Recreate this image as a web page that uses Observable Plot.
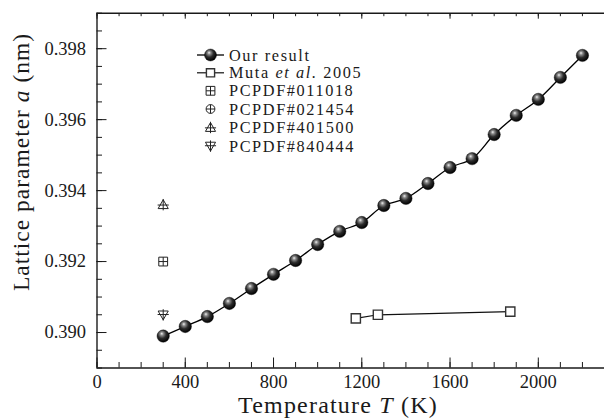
<!DOCTYPE html>
<html><head><meta charset="utf-8">
<script src="https://cdn.jsdelivr.net/npm/d3@7"></script>
<script src="https://cdn.jsdelivr.net/npm/@observablehq/plot@0.6"></script>
<style>
html,body{margin:0;padding:0;background:#fff;}
#chart{position:relative;width:604px;height:419px;}
svg{font-family:"Liberation Serif",serif;}
</style></head><body><div id="chart"></div>
<script>
// ---- data ----
const ourT = [300,400,500,600,700,800,900,1000,1100,1200,1300,1400,1500,1600,1700,1800,1900,2000,2100,2200];
const ourA = [0.38990,0.39017,0.39045,0.39082,0.39124,0.39164,0.39203,0.39248,0.39285,0.39310,0.39358,0.39378,0.39420,0.39465,0.39490,0.39558,0.39612,0.39657,0.39719,0.39781];
const mutaT = [1173,1273,1873];
const mutaA = [0.39040,0.39050,0.39059];
const pcpdfNames = ["PCPDF#011018","PCPDF#021454","PCPDF#401500","PCPDF#840444"];
const pcpdfT = [300,300,300,300];
const pcpdfA = [0.39200,0.38990,0.39360,0.39050];
const xTicks = [0,400,800,1200,1600,2000];
const xTickLabels = ["0","400","800","1200","1600","2000"];
const yTicks = [0.390,0.392,0.394,0.396,0.398];
const yTickLabels = ["0.390","0.392","0.394","0.396","0.398"];
const xMinor = d3.range(0,2301,100);
const yMinor = d3.range(0,21).map(i=>+(0.389+i*0.0005).toFixed(4));
const xDomain = [0,2300];
const yDomain = [0.389,0.399];

const our = ourT.map((t,i)=>({T:t,a:ourA[i]}));
const muta = mutaT.map((t,i)=>({T:t,a:mutaA[i]}));

// ---- custom symbols ----
const rOf = s => Math.sqrt(s/Math.PI);
const symSquarePlus = {draw(c,s){const r=rOf(s);c.moveTo(-r,-r);c.lineTo(r,-r);c.lineTo(r,r);c.lineTo(-r,r);c.closePath();c.moveTo(0,-r);c.lineTo(0,r);c.moveTo(-r,0);c.lineTo(r,0);}};
const symCirclePlus = {draw(c,s){const r=rOf(s);c.moveTo(r,0);c.arc(0,0,r,0,2*Math.PI);c.moveTo(0,-r);c.lineTo(0,r);c.moveTo(-r,0);c.lineTo(r,0);}};
const symTriUpPlus = {draw(c,s){const r=rOf(s)*1.15;c.moveTo(0,-r);c.lineTo(r,r*0.75);c.lineTo(-r,r*0.75);c.closePath();c.moveTo(0,-r*1.15);c.lineTo(0,r*1.1);c.moveTo(-r*1.1,r*0.05);c.lineTo(r*1.1,r*0.05);}};
const symTriDownPlus = {draw(c,s){const r=rOf(s)*1.15;c.moveTo(0,r);c.lineTo(r,-r*0.75);c.lineTo(-r,-r*0.75);c.closePath();c.moveTo(0,r*1.15);c.lineTo(0,-r*1.1);c.moveTo(-r*1.1,-r*0.05);c.lineTo(r*1.1,-r*0.05);}};
const pcpdfSymbols = [symSquarePlus, symCirclePlus, symTriUpPlus, symTriDownPlus];
const pcpdf = pcpdfNames.map((n,i)=>({name:n,T:pcpdfT[i],a:pcpdfA[i],sym:pcpdfSymbols[i]}));

const ink = "#1a1a1a";
const plot = Plot.plot({
  width:604, height:419,
  marginLeft:96.5, marginRight:0, marginTop:12.7, marginBottom:51.5,
  style:{fontFamily:"Liberation Serif, serif", fontSize:"18px", color:ink, background:"#fff", overflow:"visible"},
  x:{domain:xDomain},
  y:{domain:yDomain},
  marks:[
    // PCPDF points
    ...pcpdf.map(p=>Plot.dot([p],{x:"T",y:"a",symbol:()=>p.sym,r:4.4,stroke:"#222",strokeWidth:1,fill:"none"})),
    // Muta
    Plot.line(muta,{x:"T",y:"a",stroke:"#111",strokeWidth:1.2}),
    Plot.dot(muta,{x:"T",y:"a",symbol:"square",r:5.2,fill:"#fff",stroke:"#333",strokeWidth:1.4}),
    // Our result
    Plot.line(our,{x:"T",y:"a",curve:"catmull-rom",stroke:"#000",strokeWidth:1.3}),
    Plot.dot(our,{x:"T",y:"a",r:6.2,fill:"url(#ballGrad)",stroke:"#000",strokeWidth:0.4}),
    // frame lines
    Plot.ruleX([xDomain[0]],{stroke:ink,strokeWidth:1.4}),
    Plot.ruleY([yDomain[0]],{stroke:ink,strokeWidth:1.4}),
    Plot.ruleY([yDomain[1]],{stroke:ink,strokeWidth:1.4}),
    // ticks (inward)
    Plot.axisX({anchor:"bottom",ticks:xMinor,tickSize:-5.5,text:null,label:null,stroke:ink,strokeWidth:1}),
    Plot.axisX({anchor:"bottom",ticks:xTicks,tickSize:-10,text:null,label:null,stroke:ink,strokeWidth:1}),
    Plot.axisX({anchor:"top",ticks:xMinor,tickSize:-2.5,text:null,label:null,stroke:ink,strokeWidth:1}),
    Plot.axisX({anchor:"top",ticks:xTicks,tickSize:-5,text:null,label:null,stroke:ink,strokeWidth:1}),
    Plot.axisY({anchor:"left",ticks:yMinor,tickSize:-5.5,text:null,label:null,stroke:ink,strokeWidth:1}),
    Plot.axisY({anchor:"left",ticks:yTicks,tickSize:-10,text:null,label:null,stroke:ink,strokeWidth:1}),
    Plot.axisX({anchor:"bottom",ticks:xTicks,tickSize:0,tickPadding:7,tickFormat:(d,i)=>xTickLabels[i],label:null,fontSize:18.5,fill:ink}),
    Plot.axisY({anchor:"left",ticks:yTicks,tickSize:0,tickPadding:11,tickFormat:(d,i)=>yTickLabels[i],label:null,fontSize:18.5,fill:ink})
  ]
});

// gradient for shaded balls
const svg = d3.select(plot);
const defs = svg.insert("defs",":first-child");
const g = defs.append("radialGradient").attr("id","ballGrad").attr("cx","0.42").attr("cy","0.38").attr("r","0.62").attr("fx","0.38").attr("fy","0.3");
g.append("stop").attr("offset","0").attr("stop-color","#f2f2f2");
g.append("stop").attr("offset","0.22").attr("stop-color","#8a8a8a");
g.append("stop").attr("offset","0.55").attr("stop-color","#2c2c2c");
g.append("stop").attr("offset","1").attr("stop-color","#000");

// axis titles
const xt = svg.append("text").attr("x",338).attr("y",413).attr("text-anchor","middle").attr("font-size",24).attr("letter-spacing",1.2).attr("fill",ink);
xt.append("tspan").text("Temperature ");
xt.append("tspan").attr("font-style","italic").text("T");
xt.append("tspan").text(" (K)");
const yt = svg.append("text").attr("transform","translate(29,162) rotate(-90)").attr("text-anchor","middle").attr("font-size",23.5).attr("letter-spacing",1).attr("fill",ink);
yt.append("tspan").text("Lattice parameter ");
yt.append("tspan").attr("font-style","italic").text("a");
yt.append("tspan").text(" (nm)");

// legend
const leg = svg.append("g").attr("font-size",16.3).attr("letter-spacing",1.6).attr("text-anchor","start").attr("fill",ink);
const legY = [55,72.8,90.8,109,127.6,146];
const sx = 210.5, tx = 229;
// Our result
leg.append("line").attr("x1",197).attr("x2",224).attr("y1",legY[0]).attr("y2",legY[0]).attr("stroke","#000").attr("stroke-width",1.3);
leg.append("circle").attr("cx",sx).attr("cy",legY[0]).attr("r",6).attr("fill","url(#ballGrad)").attr("stroke","#000").attr("stroke-width",0.4);
leg.append("text").attr("x",tx).attr("y",legY[0]).attr("dy","0.34em").text("Our result");
// Muta
leg.append("line").attr("x1",197).attr("x2",224).attr("y1",legY[1]).attr("y2",legY[1]).attr("stroke","#111").attr("stroke-width",1.2);
leg.append("path").attr("d",d3.symbol(d3.symbolSquare, Math.PI*5.2*5.2*0.785)()).attr("transform",`translate(${sx},${legY[1]})`).attr("fill","#fff").attr("stroke","#333").attr("stroke-width",1.4);
const t1 = leg.append("text").attr("x",tx).attr("y",legY[1]).attr("dy","0.34em");
t1.append("tspan").text("Muta ");
t1.append("tspan").attr("font-style","italic").text("et al.");
t1.append("tspan").text(" 2005");
// PCPDF
pcpdf.forEach((p,i)=>{
  const y = legY[i+2];
  leg.append("path").attr("d",d3.symbol(p.sym, Math.PI*4.4*4.4)()).attr("transform",`translate(${sx},${y})`).attr("fill","none").attr("stroke","#222").attr("stroke-width",1);
  leg.append("text").attr("x",tx).attr("y",y).attr("dy","0.34em").text(p.name);
});

document.getElementById("chart").appendChild(plot);
</script>
</body></html>
